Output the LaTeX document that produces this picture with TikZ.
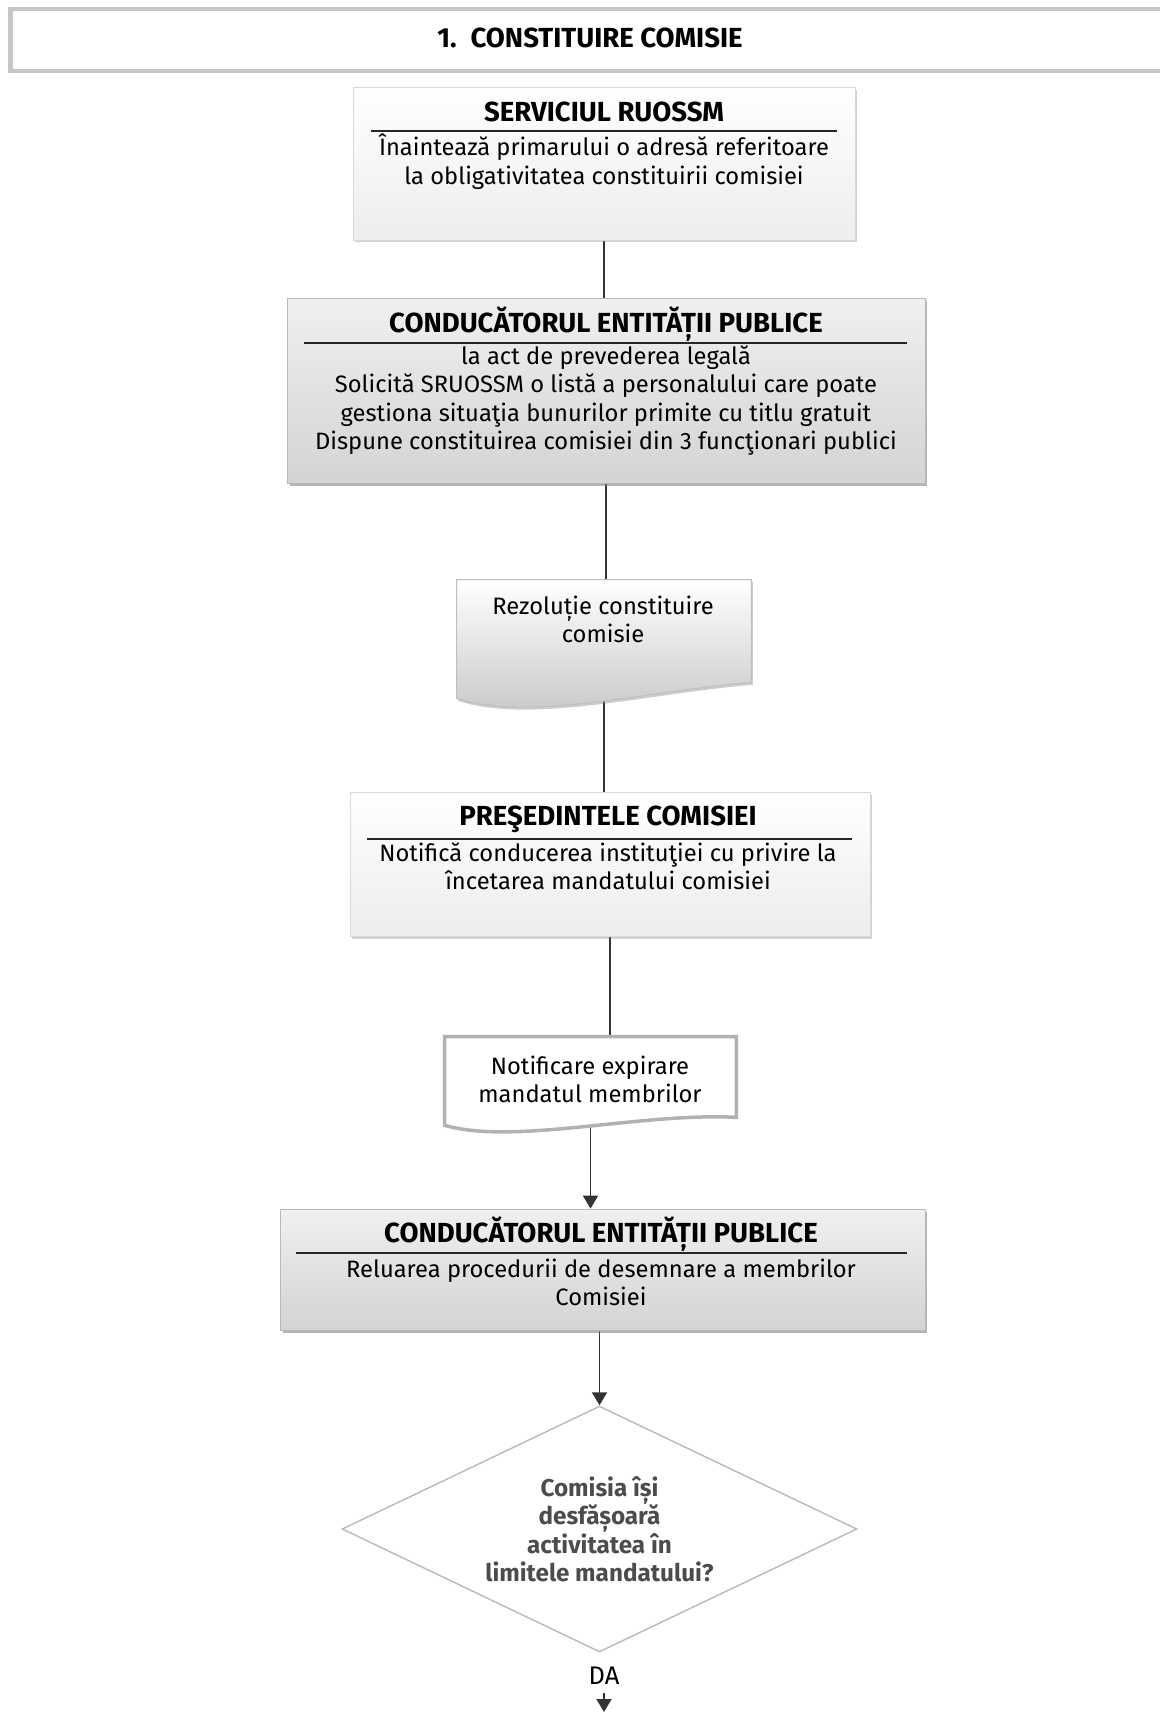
\documentclass[tikz,border=0pt]{standalone}
\usepackage{fontspec}
\setmainfont{Fira Sans}
\usetikzlibrary{shapes.geometric,shadows,calc,arrows.meta}
\pgfdeclarelayer{background}
\pgfsetlayers{background,main}

\tikzset{
  cutiealba/.style={rectangle, draw=gray!30, top color=white, bottom color=gray!14,
    drop shadow={opacity=0.35, shadow xshift=0.04cm, shadow yshift=-0.05cm}},
  cutiegri/.style={rectangle, draw=gray!55, top color=gray!12, bottom color=gray!34,
    drop shadow={opacity=0.6, shadow xshift=0.05cm, shadow yshift=-0.06cm}},
  docgri/.style={draw=gray!50, line width=0.6pt, top color=white, bottom color=gray!45,
    drop shadow={opacity=0.4, shadow xshift=0.03cm, shadow yshift=-0.05cm}},
  docalb/.style={draw=gray!60, line width=2pt, fill=white},
  titlu/.style={font=\fontsize{15.7}{18}\selectfont\bfseries},
  corp/.style={align=center, font=\fontsize{13.5}{16.2}\selectfont},
  linie/.style={black!85, line width=1pt},
  legatura/.style={black!80, line width=0.9pt},
  sageata/.style={legatura, -{Triangle[width=0.3cm,length=0.26cm]}},
  decizie/.style={diamond, aspect=2.09, draw=gray!55, line width=0.8pt, minimum width=10.3cm,
    minimum height=4.92cm, align=center, text=black!70,
    font=\fontsize{13.8}{16.2}\selectfont\bfseries}
}

\begin{document}
\begin{tikzpicture}[x=0.02cm, y=0.02cm]
	\tikzstyle{every node}+=[inner sep=0pt]
	\useasboundingbox (0,0) rectangle (1160,-1712);
	\draw [gray!45, line width=2.8pt] (10.5,-9) rectangle (1190,-71);
	\node [titlu] (antet) at (590,-38) {1.\hspace{0.5em}CONSTITUIRE COMISIE};
	\node [cutiealba, minimum width=10.04cm, minimum height=3.06cm] (serviciu) at (604,-163.5) {};
	\node [titlu] (serviciuT) at (604,-112) {SERVICIUL RUOSSM};
	\draw [linie] (371,-131) -- (837,-131);
	\node [corp] (serviciuB) at (604,-161.5) {Înaintează primarului o adresă referitoare\\la obligativitatea constituirii comisiei};
	\node [cutiegri, minimum width=12.76cm, minimum height=3.7cm] (conducator) at (606,-390.5) {};
	\node [titlu] (conducatorT) at (606,-324) {CONDUCĂTORUL ENTITĂȚII PUBLICE};
	\draw [linie] (304,-343) -- (907,-343);
	\node [corp] (conducatorB) at (606,-400.5) {la act de prevederea legală\\Solicită SRUOSSM o listă a personalului care poate\\gestiona situaţia bunurilor primite cu titlu gratuit\\Dispune constituirea comisiei din 3 funcţionari publici};
	\node [minimum width=5.88cm, minimum height=2.2cm] (rezolutie) at (604,-635) {};
	\draw [docgri] (rezolutie.north west) -- (rezolutie.north east) -- ($(rezolutie.south east)+(0,8)$) .. controls ($(rezolutie.south west)+(193,0)$) and ($(rezolutie.south west)+(73,-32)$) .. ($(rezolutie.south west)+(0,-8)$) -- cycle;
	\node [corp] (rezolutieT) at (603,-619.5) {Rezoluție constituire\\comisie};
	\node [cutiealba, minimum width=10.4cm, minimum height=2.88cm] (presedinte) at (610,-864) {};
	\node [titlu] (presedinteT) at (608,-819) {PREŞEDINTELE COMISIEI};
	\draw [linie] (367,-839) -- (852,-839);
	\node [corp] (presedinteB) at (608,-866.5) {Notifică conducerea instituţiei cu privire la\\încetarea mandatului comisiei};
	\node [minimum width=5.82cm, minimum height=1.68cm] (notificare) at (590.5,-1079) {};
	\draw [docalb] (notificare.north west) -- (notificare.north east) -- ($(notificare.south east)+(0,4)$) .. controls ($(notificare.south west)+(195,9)$) and ($(notificare.south west)+(70,-24)$) .. ($(notificare.south west)+(0,-4)$) -- cycle;
	\node [corp] (notificareT) at (590,-1079.5) {Notificare expirare\\mandatul membrilor};
	\node [cutiegri, minimum width=12.9cm, minimum height=2.42cm] (reluare) at (602.5,-1269.5) {};
	\node [titlu] (reluareT) at (601,-1234) {CONDUCĂTORUL ENTITĂȚII PUBLICE};
	\draw [linie] (296,-1253) -- (907,-1253);
	\node [corp] (reluareB) at (601,-1282.5) {Reluarea procedurii de desemnare a membrilor\\Comisiei};
	\node [decizie] (mandat) at (599.5,-1529) {Comisia își\\desfășoară\\activitatea în\\limitele mandatului?};
	\node [corp, font=\fontsize{14.5}{16}\selectfont] (da) at (604,-1676) {DA};
	\coordinate (jos) at (604,-1712);
	\draw [sageata, shorten <=0.16cm] (da.south) -- (jos);
	\begin{pgfonlayer}{background}
	\draw [legatura] (serviciu) -- (serviciu |- conducator.north);
	\draw [legatura] (conducator) -- (conducator |- rezolutie.north);
	\draw [legatura] (rezolutie) -- (rezolutie |- presedinte.north);
	\draw [legatura] (presedinte) -- (presedinte |- notificare.north);
	\draw [sageata] (notificare) -- (notificare |- reluare.north);
	\draw [sageata] (reluare.south -| mandat.north) -- (mandat.north);
	\end{pgfonlayer}
\end{tikzpicture}
\end{document}
